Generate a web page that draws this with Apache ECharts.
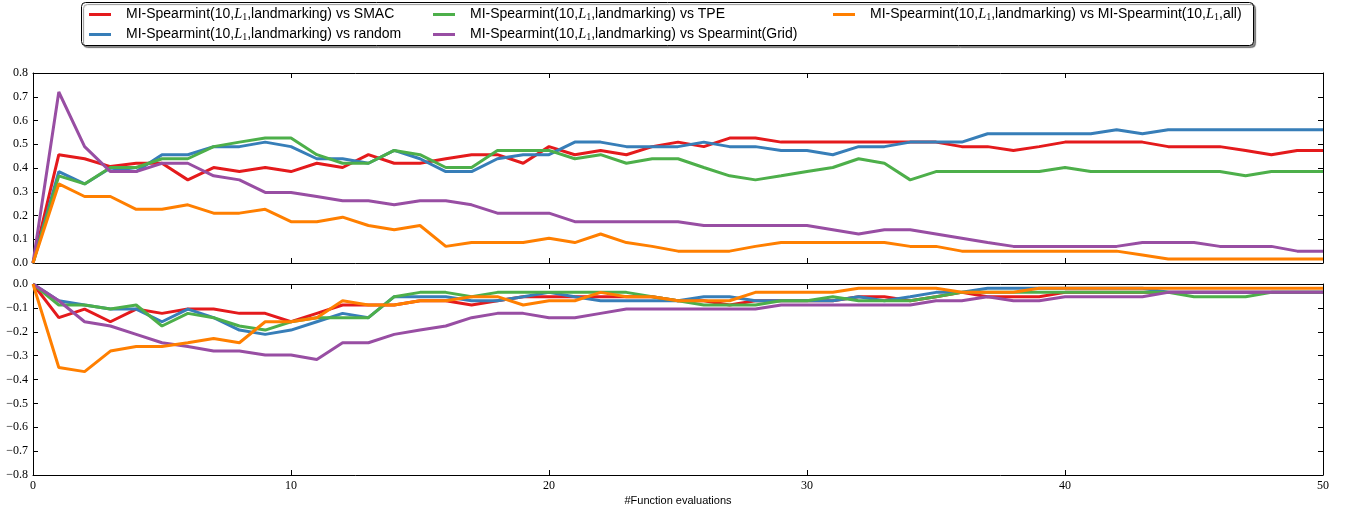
<!DOCTYPE html>
<html>
<head>
<meta charset="utf-8">
<script src="https://cdn.jsdelivr.net/npm/echarts@6/dist/echarts.min.js"></script>
<style>
html,body{margin:0;padding:0;background:#fff;}
#chart{width:1345px;height:511px;}
</style>
</head>
<body>
<div id="chart"></div>
<script>
// x values: number of function evaluations
const evals = [0,1,2,3,4,5,6,7,8,9,10,11,12,13,14,15,16,17,18,19,20,21,22,23,24,25,26,27,28,29,30,31,32,33,34,35,36,37,38,39,40,41,42,43,44,45,46,47,48,49,50];

const seriesNames = ['vs SMAC','vs random','vs TPE','vs Spearmint(Grid)','vs MI-Spearmint(10,L1,all)'];
const seriesColors = ['#e41a1c','#377eb8','#4daf4a','#984ea3','#ff7f00'];

// Top panel
const smacTop = [0,0.456,0.439,0.406,0.42,0.42,0.35,0.402,0.385,0.402,0.385,0.42,0.402,0.456,0.42,0.42,0.439,0.456,0.456,0.42,0.49,0.456,0.474,0.456,0.49,0.509,0.49,0.526,0.526,0.509,0.509,0.509,0.509,0.509,0.509,0.509,0.49,0.49,0.474,0.49,0.509,0.509,0.509,0.509,0.49,0.49,0.49,0.474,0.456,0.474,0.474];
const randomTop = [0,0.385,0.333,0.40,0.385,0.456,0.456,0.49,0.49,0.509,0.49,0.439,0.439,0.42,0.474,0.439,0.385,0.385,0.439,0.456,0.456,0.509,0.509,0.49,0.49,0.49,0.509,0.49,0.49,0.474,0.474,0.456,0.49,0.49,0.509,0.509,0.509,0.544,0.544,0.544,0.544,0.544,0.561,0.544,0.561,0.561,0.561,0.561,0.561,0.561,0.561];
const tpeTop = [0,0.367,0.333,0.402,0.402,0.439,0.439,0.49,0.509,0.526,0.526,0.456,0.42,0.42,0.474,0.456,0.402,0.402,0.474,0.474,0.474,0.439,0.456,0.42,0.439,0.439,0.402,0.367,0.35,0.367,0.385,0.402,0.439,0.42,0.35,0.385,0.385,0.385,0.385,0.385,0.402,0.385,0.385,0.385,0.385,0.385,0.385,0.367,0.385,0.385,0.385];
const gridTop = [0,0.72,0.49,0.385,0.385,0.42,0.42,0.367,0.35,0.297,0.297,0.28,0.262,0.262,0.245,0.262,0.262,0.245,0.21,0.21,0.21,0.174,0.174,0.174,0.174,0.174,0.158,0.158,0.158,0.158,0.158,0.14,0.122,0.14,0.14,0.122,0.104,0.086,0.07,0.07,0.07,0.07,0.07,0.086,0.086,0.086,0.07,0.07,0.07,0.05,0.05];
const allTop = [0,0.333,0.28,0.28,0.226,0.226,0.245,0.21,0.21,0.226,0.174,0.174,0.193,0.158,0.14,0.158,0.07,0.086,0.086,0.086,0.104,0.086,0.122,0.086,0.07,0.05,0.05,0.05,0.07,0.086,0.086,0.086,0.086,0.086,0.07,0.07,0.05,0.05,0.05,0.05,0.05,0.05,0.05,0.034,0.017,0.017,0.017,0.017,0.017,0.017,0.017];

// Bottom panel
const smacBot = [0,-0.141,-0.105,-0.158,-0.105,-0.123,-0.105,-0.105,-0.123,-0.123,-0.158,-0.123,-0.088,-0.088,-0.088,-0.07,-0.07,-0.088,-0.07,-0.053,-0.053,-0.053,-0.053,-0.053,-0.053,-0.07,-0.07,-0.088,-0.07,-0.07,-0.07,-0.07,-0.053,-0.053,-0.07,-0.053,-0.035,-0.053,-0.053,-0.053,-0.035,-0.035,-0.035,-0.035,-0.035,-0.035,-0.035,-0.035,-0.035,-0.035,-0.035];
const randomBot = [0,-0.07,-0.088,-0.105,-0.105,-0.158,-0.105,-0.141,-0.193,-0.211,-0.193,-0.158,-0.123,-0.141,-0.053,-0.053,-0.053,-0.07,-0.07,-0.053,-0.035,-0.053,-0.07,-0.07,-0.07,-0.07,-0.053,-0.053,-0.07,-0.07,-0.07,-0.07,-0.053,-0.07,-0.053,-0.035,-0.035,-0.018,-0.018,-0.018,-0.018,-0.018,-0.018,-0.018,-0.035,-0.035,-0.035,-0.035,-0.035,-0.035,-0.035];
const tpeBot = [0,-0.088,-0.088,-0.105,-0.088,-0.176,-0.123,-0.141,-0.176,-0.193,-0.158,-0.141,-0.141,-0.141,-0.053,-0.035,-0.035,-0.053,-0.035,-0.035,-0.035,-0.035,-0.035,-0.035,-0.053,-0.07,-0.088,-0.088,-0.088,-0.07,-0.07,-0.053,-0.07,-0.07,-0.07,-0.053,-0.035,-0.035,-0.035,-0.035,-0.035,-0.035,-0.035,-0.035,-0.035,-0.053,-0.053,-0.053,-0.035,-0.035,-0.035];
const gridBot = [0,-0.07,-0.158,-0.176,-0.211,-0.246,-0.262,-0.281,-0.281,-0.297,-0.297,-0.316,-0.246,-0.246,-0.211,-0.193,-0.176,-0.141,-0.123,-0.123,-0.141,-0.141,-0.123,-0.105,-0.105,-0.105,-0.105,-0.105,-0.105,-0.088,-0.088,-0.088,-0.088,-0.088,-0.088,-0.07,-0.07,-0.053,-0.07,-0.07,-0.053,-0.053,-0.053,-0.053,-0.035,-0.035,-0.035,-0.035,-0.035,-0.035,-0.035];
const allBot = [0,-0.35,-0.367,-0.281,-0.262,-0.262,-0.246,-0.228,-0.246,-0.158,-0.158,-0.141,-0.07,-0.088,-0.088,-0.07,-0.07,-0.053,-0.053,-0.088,-0.07,-0.07,-0.035,-0.053,-0.053,-0.07,-0.07,-0.07,-0.035,-0.035,-0.035,-0.035,-0.018,-0.018,-0.018,-0.018,-0.035,-0.035,-0.035,-0.018,-0.018,-0.018,-0.018,-0.018,-0.018,-0.018,-0.018,-0.018,-0.018,-0.018,-0.018];

const topData = [smacTop, randomTop, tpeTop, gridTop, allTop];
const botData = [smacBot, randomBot, tpeBot, gridBot, allBot];

const legendLabels = {
  'vs SMAC': 'MI-Spearmint(10,{i|L}{s|1},landmarking) vs SMAC',
  'vs random': 'MI-Spearmint(10,{i|L}{s|1},landmarking) vs random',
  'vs TPE': 'MI-Spearmint(10,{i|L}{s|1},landmarking) vs TPE',
  'vs Spearmint(Grid)': 'MI-Spearmint(10,{i|L}{s|1},landmarking) vs Spearmint(Grid)',
  'vs MI-Spearmint(10,L1,all)': 'MI-Spearmint(10,{i|L}{s|1},landmarking) vs MI-Spearmint(10,{i|L}{s|1},all)'
};

const chart = echarts.init(document.getElementById('chart'), null, {renderer:'canvas'});

const serif = 'Liberation Serif';
const sans = 'Liberation Sans';
const fmt = v => (v < 0 ? '\u2212' : '') + Math.abs(v).toFixed(1);

function xAx(gridIndex, position, showLabel) {
  return {
    type:'value', gridIndex, position, min:0, max:50, interval:10,
    axisLine:{show:true, onZero:false, lineStyle:{color:'#000', width:1}},
    axisTick:{show:true, inside:true, length:5, lineStyle:{color:'#000'}},
    axisLabel:{show:showLabel, fontFamily:serif, fontSize:12, color:'#000', margin:5, formatter: v => String(v)},
    splitLine:{show:false}
  };
}
function yAx(gridIndex, position, min, max, showLabel) {
  return {
    type:'value', gridIndex, position, min, max, interval:0.1,
    axisLine:{show:true, onZero:false, lineStyle:{color:'#000', width:1}},
    axisTick:{show:true, inside:true, length:5, lineStyle:{color:'#000'}},
    axisLabel:{show:showLabel, fontFamily:serif, fontSize:12, color:'#000', margin:5, formatter: fmt},
    splitLine:{show:false}
  };
}

const xAxes = [xAx(0,'bottom',false), xAx(0,'top',false), xAx(1,'bottom',true), xAx(1,'top',false)];
xAxes[2].name = '#Function evaluations';
xAxes[2].nameLocation = 'middle';
xAxes[2].nameGap = 20;
xAxes[2].nameTextStyle = {fontFamily:sans, fontSize:11, color:'#000'};

const yAxes = [yAx(0,'left',0,0.8,true), yAx(0,'right',0,0.8,false), yAx(1,'left',-0.8,0,true), yAx(1,'right',-0.8,0,false)];

const series = [];
seriesNames.forEach((name, k) => {
  series.push({
    name, type:'line', xAxisIndex:0, yAxisIndex:0,
    data: evals.map((x, i) => [x, topData[k][i]]),
    showSymbol:false, symbol:'none', lineStyle:{width:3, color:seriesColors[k]}, itemStyle:{color:seriesColors[k]},
    emphasis:{disabled:true}, z: 2 + k
  });
});
seriesNames.forEach((name, k) => {
  series.push({
    name, type:'line', xAxisIndex:2, yAxisIndex:2,
    data: evals.map((x, i) => [x, botData[k][i]]),
    showSymbol:false, symbol:'none', lineStyle:{width:3, color:seriesColors[k]}, itemStyle:{color:seriesColors[k]},
    emphasis:{disabled:true}, z: 2 + k
  });
});

const legendText = {
  fontFamily:sans, fontSize:14, color:'#000', padding:[0,0,0,10],
  rich:{
    i:{fontFamily:serif, fontStyle:'italic', fontSize:14.5, color:'#000'},
    s:{fontFamily:serif, fontSize:10, color:'#000', verticalAlign:'bottom', padding:[6,0,0,0]}
  }
};
function leg(name, left, top) {
  return {
    data:[name], left, top, orient:'horizontal', padding:0, itemGap:0,
    icon:'rect', itemWidth:22, itemHeight:3, selectedMode:false, z:10,
    formatter: n => legendLabels[n], textStyle: legendText
  };
}

const option = {
  animation:false,
  backgroundColor:'#fff',
  grid:[
    {left:33, right:22, top:73, height:190, containLabel:false},
    {left:33, right:22, top:284, height:191, containLabel:false}
  ],
  xAxis:xAxes,
  yAxis:yAxes,
  legend:[
    leg(seriesNames[0], 89, 7),
    leg(seriesNames[1], 89, 27),
    leg(seriesNames[2], 433, 7),
    leg(seriesNames[3], 433, 27),
    leg(seriesNames[4], 833, 7)
  ],
  graphic:[{
    type:'rect', z:1, silent:true,
    shape:{x:81.5, y:2.5, width:1172, height:43, r:4},
    style:{fill:'#fff', stroke:'#000', lineWidth:1, shadowColor:'rgba(0,0,0,0.45)', shadowOffsetX:2, shadowOffsetY:2, shadowBlur:1}
  }],
  series
};
chart.setOption(option);
</script>
</body>
</html>
